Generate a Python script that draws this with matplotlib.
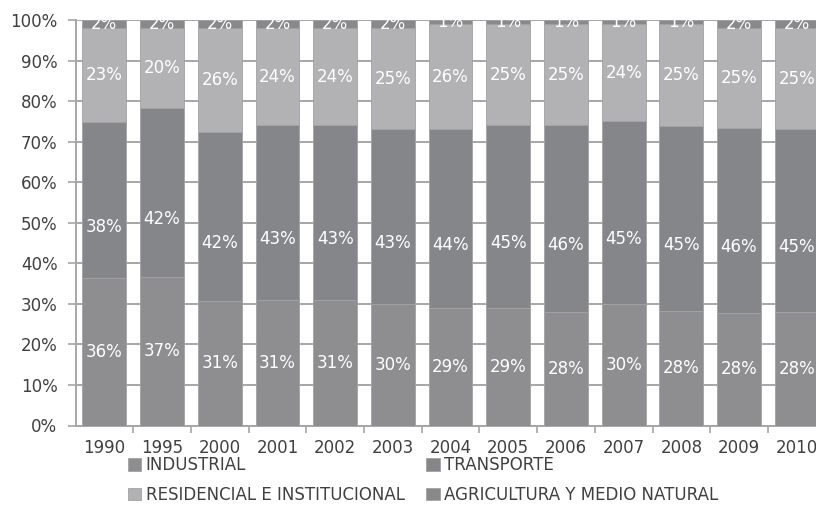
import numpy as np
import matplotlib
matplotlib.use("Agg")
import matplotlib.pyplot as plt
from matplotlib.ticker import FixedLocator, PercentFormatter

# Consumo energético por sector (%), 1990-2010
anios = ['1990', '1995', '2000', '2001', '2002', '2003', '2004',
         '2005', '2006', '2007', '2008', '2009', '2010']
industrial = [36, 37, 31, 31, 31, 30, 29, 29, 28, 30, 28, 28, 28]
transporte = [38, 42, 42, 43, 43, 43, 44, 45, 46, 45, 45, 46, 45]
residencial = [23, 20, 26, 24, 24, 25, 26, 25, 25, 24, 25, 25, 25]
agricultura = [2, 2, 2, 2, 2, 2, 1, 1, 1, 1, 1, 2, 2]

series = [
    ('INDUSTRIAL', industrial, '#8e8e90'),
    ('TRANSPORTE', transporte, '#858689'),
    ('RESIDENCIAL E INSTITUCIONAL', residencial, '#b2b2b4'),
    ('AGRICULTURA Y MEDIO NATURAL', agricultura, '#88898b'),
]

plt.rcParams['font.family'] = ['DejaVu Sans']
texto = '#404040'
rejilla = '#a6a6a6'
tam = 12

fig = plt.figure(figsize=(8.16, 5.28), dpi=100)
ax = fig.add_axes([75.5 / 816, 1 - 425.5 / 528, 13 * 57.7 / 816, (425.5 - 20) / 528])

x = np.arange(len(anios))
total = np.sum([s[1] for s in series], axis=0)
base = np.zeros(len(anios))
barras = {}
for nombre, vals, color in series:
    frac = np.array(vals) / total * 100
    barras[nombre] = ax.bar(x, frac, 0.76, bottom=base, color=color,
                            edgecolor='#a2a2a4', linewidth=0.6, label=nombre, zorder=3)
    for xi, b, f, v in zip(x, base, frac, vals):
        y = b + f / 2
        if nombre == 'TRANSPORTE':
            y -= 6.5
        ax.text(xi, y, f'{v}%', ha='center', va='center', color='white',
                fontsize=tam, zorder=4, clip_on=True)
    base += frac

ax.set_xlim(-0.5, len(anios) - 0.5)
ax.set_ylim(0, 100)
ax.yaxis.set_major_locator(FixedLocator(np.arange(0, 101, 10)))
ax.yaxis.set_major_formatter(PercentFormatter(decimals=0))
ax.grid(axis='y', color=rejilla, linewidth=1.4, zorder=0)
ax.set_axisbelow(True)

ax.set_xticks(x)
ax.set_xticklabels(anios)
ax.set_xticks(np.arange(0.5, len(anios) - 0.5), minor=True)
ax.tick_params(axis='x', which='major', length=0, pad=10, labelsize=tam, labelcolor=texto)
ax.tick_params(axis='x', which='minor', length=5, width=1.2, color=rejilla, direction='out')
ax.tick_params(axis='y', length=6, width=1.2, color=rejilla, pad=7, labelsize=tam, labelcolor=texto)

for lado in ['top', 'right']:
    ax.spines[lado].set_visible(False)
for lado in ['left', 'bottom']:
    ax.spines[lado].set_color(rejilla)
    ax.spines[lado].set_linewidth(1.4)

h = [barras[s[0]] for s in series]
etiquetas = [s[0] for s in series]
orden = [0, 2, 1, 3]
fig.legend([h[i] for i in orden], [etiquetas[i] for i in orden],
           loc='upper left', bbox_to_anchor=(128 / 816, 1 - 456 / 528), ncol=2,
           frameon=False, fontsize=tam, labelcolor=texto, handlelength=0.8,
           handleheight=0.8, handletextpad=0.25, columnspacing=1.3,
           labelspacing=0.7, borderaxespad=0, borderpad=0)

fig.savefig('out.png', dpi=100)
